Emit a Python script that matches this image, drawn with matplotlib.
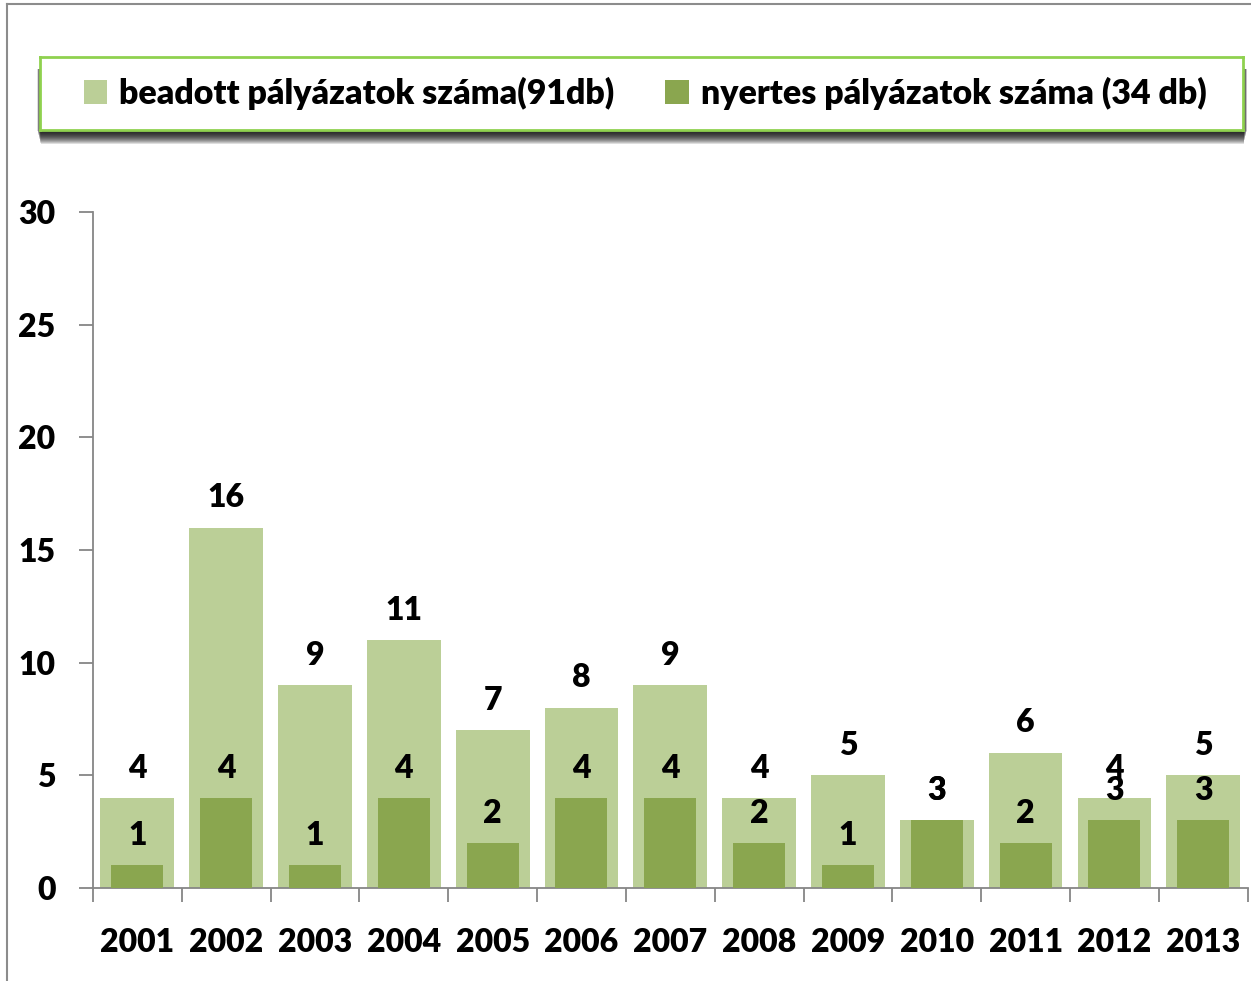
import matplotlib.pyplot as plt
from matplotlib.patches import Rectangle
from matplotlib.lines import Line2D
import numpy as np

YEARS = ["2001", "2002", "2003", "2004", "2005", "2006", "2007",
         "2008", "2009", "2010", "2011", "2012", "2013"]
BEADOTT = [4, 16, 9, 11, 7, 8, 9, 4, 5, 3, 6, 4, 5]
NYERTES = [1, 4, 1, 4, 2, 4, 4, 2, 1, 3, 2, 3, 3]
LABEL_BEADOTT = "beadott pályázatok száma(91db)"
LABEL_NYERTES = "nyertes pályázatok száma (34 db)"

LIGHT = "#BBCF97"
DARK = "#8AA64F"
GRID = "#868686"
WEIGHT = 800

plt.rcParams["font.family"] = "Lato"
plt.rcParams["font.weight"] = WEIGHT

fig = plt.figure(figsize=(12.51, 9.81), dpi=100)
ax = fig.add_axes([0.0743, 0.0948, 0.923, 0.689])

x = np.arange(len(YEARS))
ax.bar(x, BEADOTT, width=0.83, color=LIGHT, label=LABEL_BEADOTT, zorder=2)
ax.bar(x, NYERTES, width=0.585, color=DARK, label=LABEL_NYERTES, zorder=3)

for xi, v in zip(x, BEADOTT):
    ax.annotate(str(v), (xi, v), xytext=(0, 21.5), textcoords="offset points",
                ha="center", va="center", fontsize=23, fontweight=WEIGHT, zorder=5)
for xi, v in zip(x, NYERTES):
    ax.annotate(str(v), (xi, v), xytext=(0, 21.5), textcoords="offset points",
                ha="center", va="center", fontsize=23, fontweight=WEIGHT, zorder=5)

ax.set_xlim(-0.5, len(YEARS) - 0.5)
ax.set_ylim(0, 30)
ax.set_yticks(range(0, 31, 5))
ax.set_xticks(x)
ax.set_xticklabels(YEARS)
ax.set_xticks(np.arange(-0.5, len(YEARS)), minor=True)
ax.tick_params(axis="x", which="major", length=0, pad=29, labelsize=23)
ax.tick_params(axis="x", which="minor", length=10, width=1.3, color=GRID, direction="out")
ax.tick_params(axis="y", length=10, width=1.3, color=GRID, pad=17, labelsize=23)
for lab in ax.get_xticklabels() + ax.get_yticklabels():
    lab.set_fontweight(WEIGHT)
for side in ["top", "right"]:
    ax.spines[side].set_visible(False)
for side in ["left", "bottom"]:
    ax.spines[side].set_color(GRID)
    ax.spines[side].set_linewidth(1.3)

# outer chart border (top and left visible)
W, H = 1251, 981
fig.add_artist(Line2D([7 / W, 1], [1 - 4 / H, 1 - 4 / H], color="#8C8C8C", lw=1.5))
fig.add_artist(Line2D([7 / W, 7 / W], [0, 1 - 4 / H], color="#8C8C8C", lw=1.5))

# legend box with a soft shadow: stacked translucent rectangles
bx0, by0, bx1, by1 = 40 / W, 1 - 130 / H, 1243 / W, 1 - 57 / H
for k in range(1, 15):
    inset = (k * 0.25) / W
    fig.add_artist(Rectangle((bx0 - 3 / W + inset, by0 - k / H),
                             bx1 - bx0 + 7 / W - 2 * inset, k / H + (by1 - by0) - 12 / H,
                             transform=fig.transFigure, facecolor="black",
                             edgecolor="none", alpha=0.13, zorder=1))

box_ax = fig.add_axes([bx0, by0, bx1 - bx0, by1 - by0])
box_ax.set_zorder(2)
box_ax.set_xticks([])
box_ax.set_yticks([])
for s in box_ax.spines.values():
    s.set_color("#8FD14F")
    s.set_linewidth(2)

handles, labels = ax.get_legend_handles_labels()
leg = box_ax.legend(handles, labels, loc="center",
                    bbox_to_anchor=(0.5 + 0.003, 0.5),
                    ncol=2, frameon=False, handlelength=0.7,
                    handleheight=0.7, handletextpad=0.35, columnspacing=1.5,
                    prop={"family": "Lato", "weight": WEIGHT, "size": 24.4})

fig.savefig("out.png", dpi=100)
